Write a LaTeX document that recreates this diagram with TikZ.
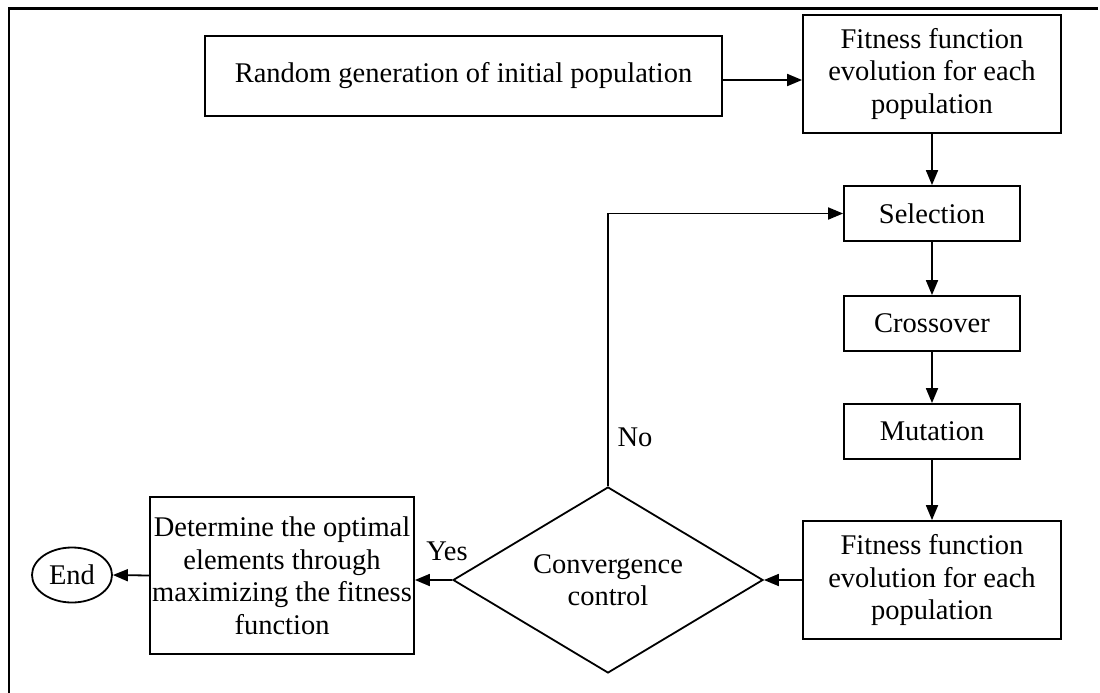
\documentclass[tikz,border=0pt]{standalone}
\usepackage{fontspec}
\setmainfont{Liberation Serif}
\usetikzlibrary{shapes.geometric,arrows.meta}

\begin{document}
\begin{tikzpicture}[x=1pt,y=-1pt,
  txt/.style={font=\fontsize{28.5}{32.5}\selectfont, align=center},
  box/.style={txt, draw, rectangle, line width=1.8pt, inner sep=0pt},
  arr/.style={line width=1.8pt, -{Triangle[length=15pt,width=12pt]}},
  lbl/.style={txt, inner sep=0pt}]

  % page area and outer frame (top and left rules)
  \useasboundingbox (0,0) rectangle (1100,693);
  \draw[line width=2.4pt] (9,693) -- (9,8.5) -- (1098,8.5);

  % process blocks
  \node[box, minimum width=517pt, minimum height=80pt] (rand) at (463.5,76)
    {Random generation of initial population};
  \node[box, minimum width=258pt, minimum height=118pt] (fit1) at (932,74)
    {Fitness function\\evolution for each\\population};
  \node[box, minimum width=176pt, minimum height=55pt] (sel) at (932,213.5) {Selection};
  \node[box, minimum width=176pt, minimum height=55pt] (cross) at (932,323.5) {Crossover};
  \node[box, minimum width=176pt, minimum height=55pt] (mut) at (932,431.5) {Mutation};
  \node[box, minimum width=258pt, minimum height=118pt] (fit2) at (932,580)
    {Fitness function\\evolution for each\\population};

  % decision
  \node[txt, draw, diamond, aspect=1.67, line width=1.8pt, inner sep=0pt,
        minimum width=310pt, minimum height=186pt] (dia) at (608,580)
    {Convergence\\control};

  % result and terminator
  \node[box, minimum width=264pt, minimum height=157pt] (det) at (282,575.5)
    {Determine the optimal\\elements through\\maximizing the fitness\\function};
  \node[txt, draw, ellipse, line width=1.8pt, inner sep=0pt,
        minimum width=80pt, minimum height=55pt] (end) at (72,575) {End};

  % connectors
  \draw[arr] ([yshift=-4pt]rand.east) coordinate (r1) -- (r1 -| fit1.west);
  \draw[arr] (fit1.south) -- (sel.north);
  \draw[arr] (sel.south) -- (cross.north);
  \draw[arr] (cross.south) -- (mut.north);
  \draw[arr] (mut.south) -- (fit2.north);
  \draw[arr] (fit2.west) -- (dia.east);
  \draw[arr] (dia.west) -- (dia.west -| det.east);
  \draw[arr] (det.west) -- (end.east);
  \draw[arr] (dia.north) |- (sel.west);

  % branch labels
  \node[lbl] (no) at (635,437) {No};
  \node[lbl] (yes) at (447,551) {Yes};
\end{tikzpicture}
\end{document}
